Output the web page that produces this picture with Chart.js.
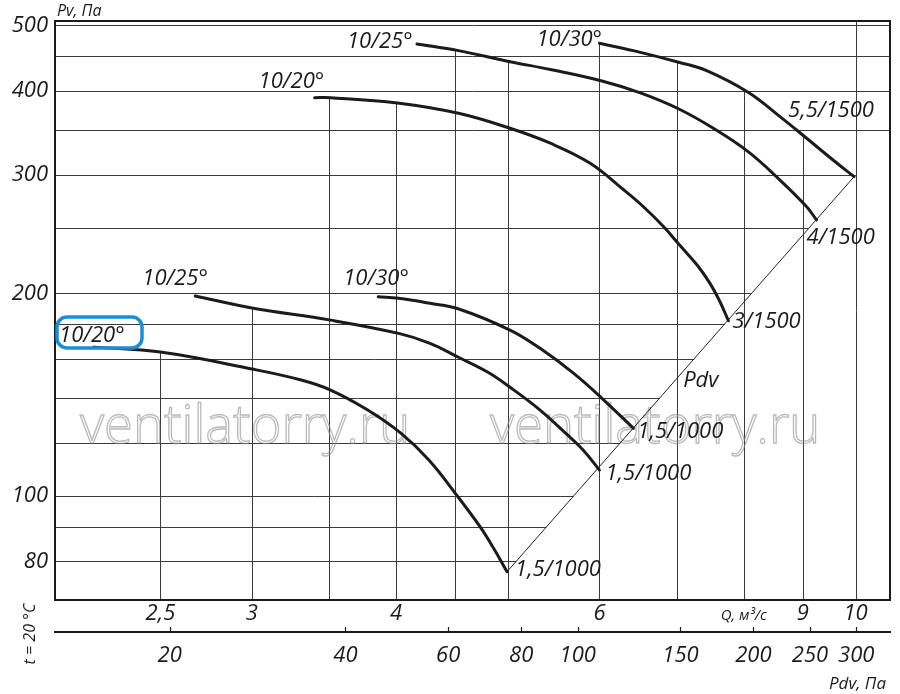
<!DOCTYPE html>
<html>
<head>
<meta charset="utf-8">
<script src="https://cdn.jsdelivr.net/npm/chart.js@4.4.1/dist/chart.umd.min.js"></script>
<style>
html,body{margin:0;padding:0;background:#fff;}
#wrap{width:900px;height:694px;position:relative;}
</style>
</head>
<body>
<div id="wrap"><canvas id="c" width="900" height="694"></canvas></div>
<script>
// ---------- DATA ----------
// Q, m³/s  and  Pv, Pa  for each fan curve
const qA  = [2.19, 2.50, 3.00, 3.31, 3.51, 3.78, 4.04, 4.27, 4.52, 4.73, 4.86, 4.99];
const pvA = [166.4, 163.6, 154.4, 148.7, 143.7, 134.2, 123.9, 113.1, 100.0, 90.0, 83.6, 77.2];

const qB  = [2.68, 3.00, 3.51, 4.02, 4.28, 4.52, 4.80, 5.03, 5.33, 5.62, 5.81, 6.00];
const pvB = [198.2, 190.2, 182.5, 174.4, 168.6, 161.0, 152.8, 144.7, 134.2, 123.6, 117.0, 109.3];

const qC  = [3.86, 4.02, 4.28, 4.52, 5.02, 5.33, 5.70, 6.03, 6.42];
const pvC = [197.7, 196.6, 193.3, 189.9, 176.4, 165.7, 152.1, 139.7, 126.1];

const qD  = [3.40, 3.51, 4.01, 4.53, 5.02, 5.44, 5.89, 6.30, 6.55, 6.82, 7.04, 7.29, 7.48, 7.63, 7.76];
const pvD = [390.4, 390.4, 383.4, 370.1, 351.6, 334.1, 312.0, 284.7, 268.9, 251.1, 235.9, 220.3, 206.9, 194.3, 182.1];

const qE  = [4.17, 4.53, 5.02, 5.44, 6.03, 6.51, 7.03, 7.53, 8.07, 8.60, 9.07, 9.25];
const pvE = [469.1, 458.5, 441.5, 429.9, 413.3, 396.8, 375.6, 351.6, 324.6, 294.6, 268.9, 257.0];

const qF  = [6.00, 6.42, 7.04, 7.43, 8.07, 8.60, 9.07, 9.56, 9.97];
const pvF = [470.2, 458.5, 440.3, 428.2, 397.7, 365.9, 339.8, 315.5, 298.0];

// dynamic pressure line Pdv
const qPdv  = [4.99, 9.97];
const pvPdv = [77.2, 298.0];

// blade angle / motor labels
const startLabels = ['10/20°', '10/25°', '10/30°', '10/20°', '10/25°', '10/30°'];
const endLabels   = ['1,5/1000', '1,5/1000', '1,5/1000', '3/1500', '4/1500', '5,5/1500'];

// axes
const pvTicks  = [80, 100, 200, 300, 400, 500];
const pvGrid   = [80, 90, 100, 120, 140, 160, 180, 200, 250, 300, 350, 400, 450, 500];
const qTicks   = [2.5, 3, 4, 6, 9, 10];
const qGrid    = [2.5, 3, 3.5, 4, 4.5, 5, 6, 7, 8, 9, 10];
const pdvTicks = [20, 40, 60, 80, 100, 150, 200, 250, 300];

// ---------- STYLE / LAYOUT ----------
const FONT = '"Open Sans", "DejaVu Sans", sans-serif';
const INK = '#1b1b1b';
const curveQ  = [qA, qB, qC, qD, qE, qF];
const curvePv = [pvA, pvB, pvC, pvD, pvE, pvF];
// label pixel offsets relative to curve start / end
const startOff = [[-35,-5],[-53,-11],[-35,-12],[-56,-10],[-70,4],[-63,3]];
const endOff   = [[8,4],[6,10],[4,10],[4,7],[-10,24],[-66,-60]];

function interpLog(qs, ps, q) {
  if (q < qs[0] - 1e-9 || q > qs[qs.length - 1] + 1e-9) return null;
  for (let i = 0; i < qs.length - 1; i++) {
    if (q >= qs[i] - 1e-9 && q <= qs[i + 1] + 1e-9) {
      const t = (Math.log(q) - Math.log(qs[i])) / (Math.log(qs[i + 1]) - Math.log(qs[i]));
      return Math.exp(Math.log(ps[i]) + t * (Math.log(ps[i + 1]) - Math.log(ps[i])));
    }
  }
  return null;
}
function qOnPdv(pv) {
  const s = (Math.log(pvPdv[1]) - Math.log(pvPdv[0])) / (Math.log(qPdv[1]) - Math.log(qPdv[0]));
  return Math.exp(Math.log(qPdv[0]) + (Math.log(pv) - Math.log(pvPdv[0])) / s);
}

const datasets = curveQ.map((qs, i) => ({
  data: qs.map((q, j) => ({ x: q, y: curvePv[i][j] })),
  borderColor: INK, borderWidth: 3, pointRadius: 0, showLine: true, fill: false,
  tension: 0.4, borderCapStyle: 'round', borderJoinStyle: 'round', xAxisID: 'x', yAxisID: 'y'
}));
datasets.push({
  data: qPdv.map((q, j) => ({ x: q, y: pvPdv[j] })),
  borderColor: '#222', borderWidth: 1, pointRadius: 0, showLine: true, fill: false,
  tension: 0, xAxisID: 'x', yAxisID: 'y'
});

const decor = {
  id: 'decor',
  beforeDatasetsDraw(chart) {
    const { ctx, chartArea: a, scales: { x, y } } = chart;
    ctx.save();
    ctx.strokeStyle = '#3a3a3a';
    ctx.lineWidth = 1;
    // horizontal grid, clipped by the Pdv line
    pvGrid.forEach(v => {
      const py = Math.round(y.getPixelForValue(v)) + 0.5;
      const xe = Math.min(a.right, x.getPixelForValue(qOnPdv(v)));
      ctx.beginPath(); ctx.moveTo(a.left, py); ctx.lineTo(xe, py); ctx.stroke();
    });
    // vertical grid, clipped by the curve envelope
    qGrid.forEach(q => {
      let top = null;
      curveQ.forEach((qs, i) => {
        const p = interpLog(qs, curvePv[i], q);
        if (p !== null && (top === null || p > top)) top = p;
      });
      const px = Math.round(x.getPixelForValue(q)) + 0.5;
      const yt = top === null ? a.top : y.getPixelForValue(top);
      ctx.beginPath(); ctx.moveTo(px, a.bottom); ctx.lineTo(px, yt); ctx.stroke();
    });
    // watermark
    ctx.font = '300 100px ' + FONT;
    const w = ctx.measureText('ventilatorry.ru').width;
    const fs = 100 * 330 / w;
    ctx.font = '300 ' + fs.toFixed(1) + 'px ' + FONT;
    ctx.strokeStyle = 'rgba(140,140,140,0.6)';
    ctx.lineWidth = 1.3;
    ctx.textBaseline = 'alphabetic';
    ctx.textAlign = 'left';
    ctx.strokeText('ventilatorry.ru', 80, 443);
    ctx.strokeText('ventilatorry.ru', 490, 443);
    ctx.restore();
  },
  afterDatasetsDraw(chart) {
    const { ctx, chartArea: a, scales: { x, y, pdv } } = chart;
    ctx.save();
    // frame
    ctx.strokeStyle = INK; ctx.lineWidth = 2;
    ctx.strokeRect(a.left, a.top, a.right - a.left, a.bottom - a.top);
    // pdv tick marks (upwards)
    ctx.lineWidth = 1.2;
    pdvTicks.forEach(v => {
      const px = Math.round(pdv.getPixelForValue(v)) + 0.5;
      ctx.beginPath(); ctx.moveTo(px, pdv.top); ctx.lineTo(px, pdv.top - 5); ctx.stroke();
    });
    // curve labels
    ctx.fillStyle = INK;
    ctx.font = 'italic 22px ' + FONT;
    ctx.textBaseline = 'alphabetic';
    ctx.textAlign = 'left';
    curveQ.forEach((qs, i) => {
      const ps = curvePv[i];
      const sx = x.getPixelForValue(qs[0]), sy = y.getPixelForValue(ps[0]);
      const ex = x.getPixelForValue(qs[qs.length - 1]), ey = y.getPixelForValue(ps[ps.length - 1]);
      ctx.fillText(startLabels[i], sx + startOff[i][0], sy + startOff[i][1]);
      ctx.fillText(endLabels[i], ex + endOff[i][0], ey + endOff[i][1]);
    });
    ctx.fillText('Pdv', x.getPixelForValue(7.09), y.getPixelForValue(145.2));
    // axis captions
    ctx.font = 'italic 16px ' + FONT;
    ctx.fillText('Pv, Па', 57, 16);
    ctx.font = 'italic 15px ' + FONT;
    ctx.textAlign = 'center';
    ctx.fillText('Q, м³/с', x.getPixelForValue(8), 620);
    ctx.font = 'italic 17px ' + FONT;
    ctx.textAlign = 'right';
    ctx.fillText('Pdv, Па', 886, 689);
    ctx.save();
    ctx.translate(35, 634);
    ctx.rotate(-Math.PI / 2);
    ctx.textAlign = 'center';
    ctx.font = 'italic 16px ' + FONT;
    ctx.fillText('t = 20 °C', 0, 0);
    ctx.restore();
    // highlight box
    ctx.strokeStyle = '#1a8fd6';
    ctx.lineWidth = 3.5;
    ctx.beginPath();
    ctx.roundRect(57, 317, 85, 31, 10);
    ctx.stroke();
    ctx.restore();
  }
};

const tickFont = { family: FONT, size: 22, style: 'italic' };

new Chart(document.getElementById('c'), {
  type: 'scatter',
  data: { datasets },
  options: {
    responsive: false,
    animation: false,
    events: [],
    layout: { padding: { top: 21, left: 0, right: 10, bottom: 0 } },
    plugins: { legend: { display: false }, tooltip: { enabled: false } },
    scales: {
      x: {
        type: 'logarithmic', position: 'bottom', min: 2.026, max: 10.71, bounds: 'data', weight: 0,
        grid: { display: false, drawTicks: false }, border: { display: false },
        afterBuildTicks: s => { s.ticks = qTicks.map(v => ({ value: v })); },
        afterFit: s => { s.height = 32; },
        ticks: { autoSkip: false, maxRotation: 0, padding: 1, color: INK, font: tickFont,
                 callback: v => String(v).replace('.', ',') }
      },
      pdv: {
        type: 'logarithmic', axis: 'x', position: 'bottom', min: 12.72, max: 342.8, bounds: 'data', weight: 1,
        grid: { display: false, drawTicks: false }, border: { display: true, color: INK, width: 2 },
        afterBuildTicks: s => { s.ticks = pdvTicks.map(v => ({ value: v })); },
        afterFit: s => { s.height = 62; },
        ticks: { autoSkip: false, maxRotation: 0, padding: 11, color: INK, font: tickFont,
                 callback: v => String(v) }
      },
      y: {
        type: 'logarithmic', position: 'left', min: 70.1, max: 507.4, bounds: 'data',
        grid: { display: false, drawTicks: false }, border: { display: false },
        afterBuildTicks: s => { s.ticks = pvTicks.map(v => ({ value: v })); },
        afterFit: s => { s.width = 55; },
        ticks: { autoSkip: false, padding: 7, color: INK, font: tickFont, callback: v => String(v) }
      }
    }
  },
  plugins: [decor]
});
</script>
</body>
</html>
